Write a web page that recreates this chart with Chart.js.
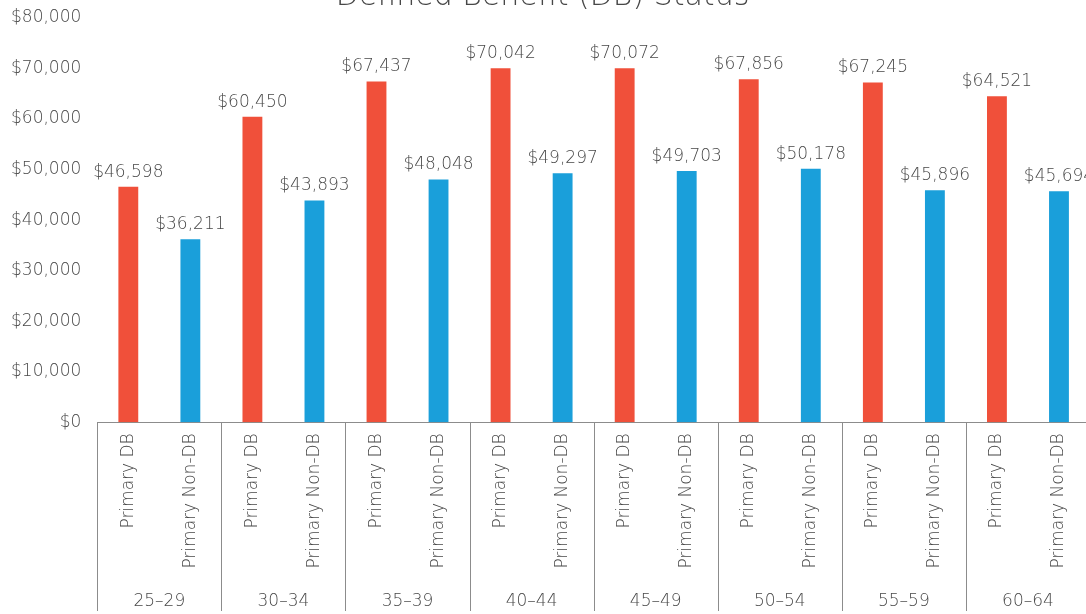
<!DOCTYPE html>
<html>
<head>
<meta charset="utf-8">
<script src="https://cdn.jsdelivr.net/npm/chart.js@4"></script>
<style>
  html, body { margin: 0; padding: 0; background: #fff; overflow: hidden; }
  #wrap { position: absolute; left: 0; top: -30px; width: 1092px; height: 657px; }
</style>
</head>
<body>
<div id="wrap"><canvas id="chart"></canvas></div>
<script>
const titleText = "Defined Benefit (DB) Status";
const ageGroups = ["25\u201329", "30\u201334", "35\u201339", "40\u201344", "45\u201349", "50\u201354", "55\u201359", "60\u201364"];
const seriesNames = ["Primary DB", "Primary Non-DB"];
const dbValues = [46598, 60450, 67437, 70042, 70072, 67856, 67245, 64521];
const nonDbValues = [36211, 43893, 48048, 49297, 49703, 50178, 45896, 45694];
const seriesColors = ["#F0503A", "#1A9FDA"];

const TEXT = "#474747";
const LINE = "#8c8c8c";
const FONT = "'DejaVu Sans', sans-serif";
const WEIGHT = 300;

// build the flat category list: every age group has both series side by side
const labels = [];
const values = [];
const colors = [];
ageGroups.forEach((g, i) => {
  labels.push(seriesNames[0]); values.push(dbValues[i]); colors.push(seriesColors[0]);
  labels.push(seriesNames[1]); values.push(nonDbValues[i]); colors.push(seriesColors[1]);
});

function money(v) {
  return "$" + Number(v).toLocaleString("en-US");
}

/* -------------------------------
   value labels above bars
--------------------------------*/
const valueLabels = {
  id: "valueLabels",
  afterDatasetsDraw(chart) {
    const ctx = chart.ctx;
    const meta = chart.getDatasetMeta(0);
    ctx.save();
    ctx.font = WEIGHT + " 17px " + FONT;
    ctx.fillStyle = TEXT;
    ctx.textAlign = "center";
    ctx.textBaseline = "alphabetic";
    meta.data.forEach((bar, i) => {
      ctx.fillText(money(values[i]), bar.x, bar.y - 10);
    });
    ctx.restore();
  }
};

/* -------------------------------
   group separators under the axis
--------------------------------*/
const groupLines = {
  id: "groupLines",
  afterDraw(chart) {
    const ctx = chart.ctx;
    const x = chart.scales.x;
    const half = (x.getPixelForValue(1) - x.getPixelForValue(0)) / 2;
    const top = chart.chartArea.bottom;
    const bottom = chart.height - 16;
    ctx.save();
    ctx.strokeStyle = LINE;
    ctx.lineWidth = 1;
    for (let i = 0; i <= ageGroups.length; i++) {
      const px = Math.round(x.getPixelForValue(i * 2) - half) + 0.5;
      ctx.beginPath();
      ctx.moveTo(px, top);
      ctx.lineTo(px, bottom);
      ctx.stroke();
    }
    ctx.restore();
  }
};

new Chart(document.getElementById("chart"), {
  type: "bar",
  data: {
    labels,
    datasets: [{
      data: values,
      backgroundColor: colors,
      barPercentage: 0.64,
      categoryPercentage: 0.5
    }]
  },
  options: {
    responsive: true,
    maintainAspectRatio: false,
    animation: false,
    layout: { padding: { left: -5, right: 2, top: 0, bottom: 3 } },
    plugins: {
      legend: { display: false },
      tooltip: { enabled: false },
      title: {
        display: true,
        text: titleText,
        color: TEXT,
        font: { family: FONT, size: 30, weight: WEIGHT },
        padding: { top: 9, bottom: 3 }
      }
    },
    scales: {
      y: {
        min: 0,
        max: 80000,
        ticks: {
          stepSize: 10000,
          color: TEXT,
          padding: 16,
          font: { family: FONT, size: 17, weight: WEIGHT },
          callback: v => money(v)
        },
        grid: { display: false, drawTicks: false },
        border: { display: false }
      },
      x: {
        weight: 0,
        ticks: {
          color: TEXT,
          autoSkip: false,
          minRotation: 90,
          maxRotation: 90,
          padding: 11,
          font: { family: FONT, size: 17, weight: WEIGHT }
        },
        grid: { drawOnChartArea: false, drawTicks: false },
        border: { display: true, color: LINE, width: 1 }
      },
      x2: {
        type: "category",
        position: "bottom",
        weight: 1,
        labels: ageGroups,
        offset: true,
        ticks: {
          color: TEXT,
          padding: 12,
          font: { family: FONT, size: 17, weight: WEIGHT }
        },
        grid: { display: false, drawTicks: false },
        border: { display: false }
      }
    }
  },
  plugins: [valueLabels, groupLines]
});
</script>
</body>
</html>
